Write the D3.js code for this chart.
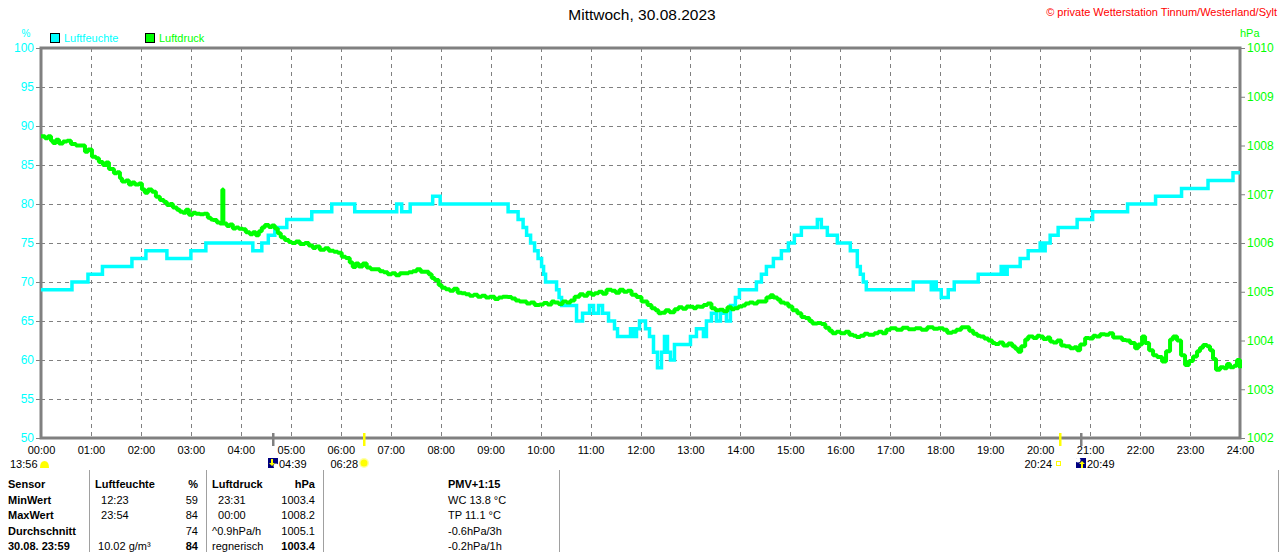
<!DOCTYPE html>
<html>
<head>
<meta charset="utf-8">
<script src="https://cdn.jsdelivr.net/npm/d3@7"></script>
<style>
  html, body { margin: 0; padding: 0; background: #fff; }
  svg { display: block; font-family: "Liberation Sans", Arial, sans-serif; }
</style>
</head>
<body>
<svg id="chart" width="1280" height="552"></svg>
<script>
// Luftfeuchte (%), Stufenwerte: Zeitpunkt (Stunden) und Wert
const humTimes = [0.00, 0.62, 0.94, 1.23, 1.82, 2.10, 2.52, 3.00, 3.30, 4.24, 4.42, 4.55, 4.68, 4.92, 5.42, 5.82,
  6.28, 7.12, 7.22, 7.39, 7.84, 7.99, 9.35, 9.55, 9.65, 9.72, 9.80, 9.88, 9.95, 10.02, 10.06, 10.10, 10.32,
  10.37, 10.42, 10.72, 10.84, 10.98, 11.06, 11.16, 11.24, 11.36, 11.48, 11.54, 11.80, 11.86, 11.92, 11.98,
  12.10, 12.18, 12.26, 12.34, 12.42, 12.48, 12.54, 12.60, 12.68, 13.00, 13.12, 13.26, 13.32, 13.42, 13.52,
  13.60, 13.72, 13.80, 13.90, 13.98, 14.32, 14.42, 14.52, 14.66, 14.82, 14.96, 15.08, 15.22, 15.54, 15.62,
  15.74, 15.94, 16.20, 16.34, 16.40, 16.46, 16.52, 17.46, 17.82, 17.86, 17.92, 18.02, 18.16, 18.28, 18.76,
  19.22, 19.28, 19.34, 19.60, 19.76, 20.00, 20.06, 20.10, 20.20, 20.36, 20.74, 21.05, 21.75, 22.31, 22.83,
  23.36, 23.86, 24.00];
const humValues = [69, 70, 71, 72, 73, 74, 73, 74, 75, 74, 75, 76, 77, 78, 79, 80,
  79, 80, 79, 80, 81, 80, 79, 78, 77, 76, 75, 74, 73, 72, 71, 70, 69,
  68, 67, 65, 66, 67, 66, 67, 66, 65, 64, 63, 64, 63, 64, 65,
  64, 63, 61, 59, 61, 63, 61, 60, 62, 63, 64, 63, 65, 66, 65,
  66, 65, 67, 68, 69, 70, 71, 72, 73, 74, 75, 76, 77, 78, 77,
  76, 75, 74, 72, 71, 70, 69, 70, 69, 70, 69, 68, 69, 70, 71,
  72, 71, 72, 73, 74, 75, 74, 75, 76, 77, 78, 79, 80, 81, 82,
  83, 84, 84];

// Luftdruck (hPa)
const presTimes = [0.00, 0.08, 0.14, 0.20, 0.24, 0.30, 0.36, 0.44, 0.52, 0.60, 0.70, 0.78, 0.88, 0.94, 1.02,
  1.10, 1.16, 1.24, 1.30, 1.36, 1.46, 1.52, 1.58, 1.62, 1.70, 1.76, 1.82, 1.88, 1.96, 2.02, 2.08, 2.14, 2.22,
  2.30, 2.38, 2.46, 2.52, 2.58, 2.64, 2.72, 2.78, 2.84, 2.90, 2.96, 3.04, 3.10, 3.18, 3.26, 3.34, 3.40, 3.44,
  3.52, 3.58, 3.62, 3.63, 3.65, 3.72, 3.78, 3.84, 3.90, 3.96, 4.04, 4.10, 4.18, 4.24, 4.30, 4.36, 4.42, 4.48,
  4.56, 4.62, 4.68, 4.74, 4.80, 4.88, 4.96, 5.02, 5.10, 5.18, 5.28, 5.36, 5.44, 5.50, 5.58, 5.68, 5.76, 5.86,
  5.94, 6.02, 6.10, 6.18, 6.24, 6.30, 6.36, 6.44, 6.52, 6.60, 6.70, 6.78, 6.86, 6.94, 7.02, 7.10, 7.18, 7.28,
  7.36, 7.44, 7.52, 7.60, 7.68, 7.76, 7.82, 7.88, 7.96, 8.02, 8.10, 8.18, 8.26, 8.34, 8.42, 8.50, 8.58, 8.66,
  8.74, 8.82, 8.90, 8.98, 9.08, 9.16, 9.24, 9.34, 9.42, 9.50, 9.58, 9.64, 9.72, 9.80, 9.88, 9.98, 10.06,
  10.14, 10.22, 10.28, 10.36, 10.44, 10.52, 10.60, 10.68, 10.78, 10.86, 10.94, 11.02, 11.08, 11.16, 11.24,
  11.32, 11.42, 11.50, 11.58, 11.66, 11.74, 11.82, 11.92, 12.02, 12.14, 12.22, 12.30, 12.36, 12.42, 12.50,
  12.58, 12.68, 12.76, 12.84, 12.92, 12.98, 13.06, 13.12, 13.18, 13.26, 13.34, 13.42, 13.50, 13.58, 13.66,
  13.74, 13.82, 13.88, 13.96, 14.04, 14.10, 14.18, 14.26, 14.34, 14.44, 14.52, 14.60, 14.66, 14.74, 14.80,
  14.88, 14.96, 15.04, 15.14, 15.22, 15.30, 15.38, 15.44, 15.54, 15.62, 15.70, 15.78, 15.84, 15.92, 16.00,
  16.10, 16.18, 16.26, 16.32, 16.40, 16.48, 16.56, 16.68, 16.76, 16.84, 16.92, 17.00, 17.12, 17.24, 17.36,
  17.50, 17.62, 17.74, 17.86, 17.96, 18.06, 18.14, 18.24, 18.32, 18.42, 18.50, 18.58, 18.66, 18.74, 18.80,
  18.88, 18.96, 19.04, 19.10, 19.18, 19.26, 19.36, 19.44, 19.50, 19.56, 19.62, 19.70, 19.76, 19.86, 19.94,
  20.00, 20.06, 20.14, 20.20, 20.26, 20.34, 20.42, 20.50, 20.60, 20.68, 20.74, 20.80, 20.90, 20.98, 21.06,
  21.12, 21.20, 21.30, 21.38, 21.46, 21.54, 21.64, 21.72, 21.80, 21.90, 21.96, 22.04, 22.10, 22.18, 22.26,
  22.34, 22.44, 22.52, 22.60, 22.66, 22.74, 22.82, 22.90, 22.98, 23.06, 23.14, 23.20, 23.26, 23.34, 23.40,
  23.46, 23.52, 23.60, 23.68, 23.74, 23.80, 23.88, 23.94, 24.00];
const presValues = [1008.19, 1008.15, 1008.19, 1008.10, 1008.05, 1008.12, 1008.04, 1008.08, 1008.10, 1008.03,
  1008.00, 1008.00, 1007.87, 1007.92, 1007.77, 1007.74, 1007.66, 1007.60, 1007.65, 1007.52, 1007.43, 1007.45,
  1007.33, 1007.26, 1007.28, 1007.20, 1007.24, 1007.20, 1007.22, 1007.10, 1007.03, 1007.10, 1007.05, 1006.95,
  1006.88, 1006.84, 1006.78, 1006.80, 1006.73, 1006.68, 1006.64, 1006.62, 1006.68, 1006.58, 1006.62, 1006.60,
  1006.59, 1006.60, 1006.52, 1006.48, 1006.47, 1006.42, 1006.40, 1006.40, 1007.10, 1006.40, 1006.35, 1006.38,
  1006.30, 1006.32, 1006.29, 1006.28, 1006.22, 1006.18, 1006.22, 1006.16, 1006.24, 1006.32, 1006.37, 1006.33,
  1006.36, 1006.30, 1006.20, 1006.12, 1006.06, 1006.02, 1006.00, 1006.03, 1005.98, 1006.00, 1005.95, 1005.90,
  1005.93, 1005.86, 1005.89, 1005.84, 1005.82, 1005.80, 1005.72, 1005.69, 1005.60, 1005.51, 1005.58, 1005.52,
  1005.58, 1005.50, 1005.46, 1005.46, 1005.42, 1005.40, 1005.36, 1005.38, 1005.34, 1005.38, 1005.38, 1005.40,
  1005.42, 1005.46, 1005.41, 1005.41, 1005.36, 1005.28, 1005.24, 1005.14, 1005.08, 1005.05, 1005.02, 1005.06,
  1004.98, 1004.97, 1004.95, 1004.92, 1004.94, 1004.90, 1004.92, 1004.88, 1004.90, 1004.85, 1004.88, 1004.90,
  1004.89, 1004.86, 1004.82, 1004.80, 1004.80, 1004.76, 1004.78, 1004.73, 1004.74, 1004.77, 1004.74, 1004.80,
  1004.78, 1004.75, 1004.80, 1004.78, 1004.82, 1004.90, 1004.95, 1004.92, 1004.98, 1004.94, 1004.97, 1005.00,
  1004.96, 1005.04, 1005.02, 1004.98, 1005.04, 1005.00, 1005.02, 1004.94, 1004.89, 1004.80, 1004.73, 1004.66,
  1004.62, 1004.56, 1004.57, 1004.62, 1004.58, 1004.64, 1004.68, 1004.65, 1004.70, 1004.69, 1004.66, 1004.70,
  1004.69, 1004.73, 1004.76, 1004.66, 1004.62, 1004.63, 1004.60, 1004.68, 1004.64, 1004.66, 1004.70, 1004.72,
  1004.76, 1004.78, 1004.76, 1004.80, 1004.80, 1004.88, 1004.93, 1004.88, 1004.84, 1004.78, 1004.76, 1004.70,
  1004.62, 1004.56, 1004.48, 1004.46, 1004.40, 1004.35, 1004.36, 1004.34, 1004.26, 1004.20, 1004.15, 1004.18,
  1004.15, 1004.18, 1004.12, 1004.10, 1004.07, 1004.10, 1004.14, 1004.12, 1004.15, 1004.18, 1004.15, 1004.22,
  1004.25, 1004.22, 1004.26, 1004.23, 1004.25, 1004.22, 1004.27, 1004.24, 1004.25, 1004.22, 1004.16, 1004.18,
  1004.22, 1004.27, 1004.27, 1004.20, 1004.14, 1004.10, 1004.08, 1004.04, 1004.00, 1003.95, 1003.93, 1003.96,
  1003.90, 1003.94, 1003.88, 1003.83, 1003.77, 1003.88, 1004.02, 1004.08, 1004.05, 1004.10, 1004.08, 1004.03,
  1004.06, 1003.98, 1003.96, 1004.00, 1003.90, 1003.88, 1003.84, 1003.86, 1003.80, 1003.92, 1004.05, 1004.04,
  1004.10, 1004.08, 1004.13, 1004.12, 1004.15, 1004.06, 1004.06, 1004.01, 1004.00, 1003.95, 1003.84, 1003.92,
  1004.08, 1003.95, 1003.80, 1003.70, 1003.66, 1003.57, 1003.78, 1004.02, 1004.08, 1004.00, 1003.70, 1003.50,
  1003.58, 1003.67, 1003.78, 1003.85, 1003.91, 1003.88, 1003.80, 1003.62, 1003.40, 1003.45, 1003.43, 1003.52,
  1003.45, 1003.48, 1003.60, 1003.43];

const humTicks = [50, 55, 60, 65, 70, 75, 80, 85, 90, 95, 100];
const presTicks = [1002, 1003, 1004, 1005, 1006, 1007, 1008, 1009, 1010];
const hourTicks = d3.range(0, 25);

// Sonne / Mond: Zeit, Symbol, Farbe der Markierung
const events = [
  { time: "13:56", kind: "moonset", mark: false },
  { time: "04:39", kind: "moonrise", mark: "#808080" },
  { time: "06:28", kind: "sunrise", mark: "#ffff00" },
  { time: "20:24", kind: "sunset", mark: "#ffff00" },
  { time: "20:49", kind: "moonup", mark: "#808080" }
];

const tableRows = [
  ["Sensor", "Luftfeuchte", "%", "Luftdruck", "hPa", "PMV+1:15"],
  ["MinWert", "  12:23", "59", "  23:31", "1003.4", "WC 13.8 °C"],
  ["MaxWert", "  23:54", "84", "  00:00", "1008.2", "TP 11.1 °C"],
  ["Durchschnitt", "", "74", "^0.9hPa/h", "1005.1", "-0.6hPa/3h"],
  ["30.08. 23:59", " 10.02 g/m³", "84", "regnerisch", "1003.4", "-0.2hPa/1h"]
];

const CYAN = '#00ffff', GREEN = '#00ff00', GREY = '#808080';

const svg = d3.select('#chart');
const plotL = 41, plotR = 1240, plotT = 48, plotB = 438;

const x = d3.scaleLinear().domain([0, 24]).range([plotL, plotR]);
const yH = d3.scaleLinear().domain([50, 100]).range([plotB, plotT]);
const yP = d3.scaleLinear().domain([1002, 1010]).range([plotB, plotT]);

// Titel
svg.append('text').attr('x', 642).attr('y', 20).attr('text-anchor', 'middle')
  .style('font-size', '15.5px').attr('fill', '#000').text('Mittwoch, 30.08.2023');
svg.append('text').attr('x', 1277).attr('y', 16).attr('text-anchor', 'end')
  .style('font-size', '11px').attr('fill', '#ff0000')
  .text('© private Wetterstation Tinnum/Westerland/Sylt');

// Einheiten + Legende
svg.append('text').attr('x', 26).attr('y', 37).attr('text-anchor', 'middle')
  .style('font-size', '10px').attr('fill', CYAN).text('%');
svg.append('text').attr('x', 1240).attr('y', 37)
  .style('font-size', '11px').attr('fill', GREEN).text('hPa');

const legend = [
  { name: 'Luftfeuchte', color: CYAN, x: 50 },
  { name: 'Luftdruck', color: GREEN, x: 145 }
];
legend.forEach(l => {
  svg.append('rect').attr('x', l.x + 0.5).attr('y', 33.5).attr('width', 9).attr('height', 9)
    .attr('fill', l.color).attr('stroke', '#000').attr('stroke-width', 1);
  svg.append('text').attr('x', l.x + 14).attr('y', 42).style('font-size', '11px')
    .attr('fill', l.color).text(l.name);
});

// Gitter
const grid = svg.append('g').attr('stroke', GREY).attr('stroke-width', 1).attr('stroke-dasharray', '4,4');
grid.selectAll('line.v').data(hourTicks.slice(1, -1)).enter().append('line')
  .attr('x1', d => Math.round(x(d)) + 0.5).attr('x2', d => Math.round(x(d)) + 0.5)
  .attr('y1', plotT).attr('y2', plotB);
grid.selectAll('line.h').data(humTicks.slice(1, -1)).enter().append('line')
  .attr('y1', d => Math.round(yH(d)) + 0.5).attr('y2', d => Math.round(yH(d)) + 0.5)
  .attr('x1', plotL).attr('x2', plotR);

// Achsen
const axL = svg.append('g').attr('transform', `translate(${plotL},0)`)
  .call(d3.axisLeft(yH).tickValues(humTicks).tickSize(5).tickPadding(2));
axL.selectAll('text').attr('fill', CYAN).style('font-size', '12px');
const axR = svg.append('g').attr('transform', `translate(${plotR},0)`)
  .call(d3.axisRight(yP).tickValues(presTicks).tickSize(5).tickPadding(2).tickFormat(d3.format('d')));
axR.selectAll('text').attr('fill', GREEN).style('font-size', '12px');
const axB = svg.append('g').attr('transform', `translate(0,${plotB})`)
  .call(d3.axisBottom(x).tickValues(hourTicks).tickSize(0).tickPadding(8)
    .tickFormat(d => d3.format('02d')(d) + ':00'));
axB.selectAll('text').attr('fill', '#000').style('font-size', '11px');
[axL, axR, axB].forEach(a => {
  a.select('.domain').remove();
  a.selectAll('line').attr('stroke', GREY);
});

// Rahmen
svg.append('rect').attr('x', plotL).attr('y', plotT).attr('width', plotR - plotL).attr('height', plotB - plotT)
  .attr('fill', 'none').attr('stroke', GREY).attr('stroke-width', 3);

// Linien
const humData = humTimes.map((t, i) => [t, humValues[i]]);
const presData = presTimes.map((t, i) => [t, presValues[i]]);

svg.append('path').datum(humData)
  .attr('d', d3.line().x(d => x(d[0])).y(d => yH(d[1])).curve(d3.curveStepAfter))
  .attr('fill', 'none').attr('stroke', CYAN).attr('stroke-width', 3.5);
svg.append('path').datum(presData)
  .attr('d', d3.line().x(d => x(d[0])).y(d => yP(d[1])).curve(d3.curveStepAfter))
  .attr('fill', 'none').attr('stroke', GREEN).attr('stroke-width', 4).attr('stroke-linejoin', 'bevel');

// Sonne / Mond
const parseT = s => { const [h, m] = s.split(':').map(Number); return h + m / 60; };
events.forEach(e => {
  const ex = Math.round(x(parseT(e.time)));
  if (e.mark) {
    svg.append('rect').attr('x', ex - 1).attr('y', 433).attr('width', 2.5).attr('height', 13).attr('fill', e.mark);
  }
  const g = svg.append('g').style('font-size', '11px');
  if (e.kind === 'moonset') {
    g.append('text').attr('x', 10).attr('y', 468).text(e.time);
    g.append('path').attr('d', 'M40,468 Q40,461 44.5,461 Q49,461 49,468 Z').attr('fill', '#ffff00');
  } else if (e.kind === 'moonrise') {
    g.append('rect').attr('x', ex - 5).attr('y', 458).attr('width', 10).attr('height', 10).attr('fill', '#000080');
    g.append('circle').attr('cx', ex + 3).attr('cy', 466).attr('r', 2.5).attr('fill', '#fff');
    g.append('path').attr('d', `M${ex - 2},459 v4 h-2 l3,3 l3,-3 h-2 v-4 z`).attr('fill', '#ffff00');
    g.append('text').attr('x', ex + 6).attr('y', 468).text(e.time);
  } else if (e.kind === 'sunrise') {
    g.append('text').attr('x', ex - 6).attr('y', 468).attr('text-anchor', 'end').text(e.time);
    g.append('circle').attr('cx', ex).attr('cy', 463).attr('r', 5).attr('fill', '#ffffa0');
    g.append('circle').attr('cx', ex).attr('cy', 463).attr('r', 3.5).attr('fill', '#ffff00');
  } else if (e.kind === 'sunset') {
    g.append('text').attr('x', ex - 8).attr('y', 468).attr('text-anchor', 'end').text(e.time);
    g.append('rect').attr('x', ex - 3.5).attr('y', 461.5).attr('width', 4).attr('height', 4)
      .attr('fill', 'none').attr('stroke', '#ffff00');
  } else {
    g.append('rect').attr('x', ex - 5).attr('y', 458).attr('width', 10).attr('height', 10).attr('fill', '#000080');
    g.append('circle').attr('cx', ex - 3).attr('cy', 460).attr('r', 2.5).attr('fill', '#fff');
    g.append('path').attr('d', `M${ex},468 v-4 h-2 l3,-3 l3,3 h-2 v4 z`).attr('fill', '#ffff00');
    g.append('text').attr('x', ex + 6).attr('y', 468).text(e.time);
  }
});

// Tabelle
const sepX = [89, 206, 323, 559, 1278];
svg.selectAll('line.sep').data(sepX).enter().append('line')
  .attr('x1', d => d + 0.5).attr('x2', d => d + 0.5).attr('y1', 470).attr('y2', 552)
  .attr('stroke', '#a0a0a0').attr('stroke-width', 1);

const colX = [8, 95, 198, 212, 315, 448];
const colAnchor = ['start', 'start', 'end', 'start', 'end', 'start'];
const rowY = [488, 503.5, 519, 534.5, 550];
tableRows.forEach((row, r) => {
  row.forEach((cell, c) => {
    const bold = r === 0 || c === 0 || (r === 4 && (c === 2 || c === 4));
    svg.append('text')
      .attr('x', colX[c]).attr('y', rowY[r])
      .attr('text-anchor', colAnchor[c])
      .attr('xml:space', 'preserve')
      .style('white-space', 'pre')
      .style('font-size', '11px')
      .style('font-weight', bold ? 'bold' : 'normal')
      .attr('fill', '#000')
      .text(cell);
  });
});
</script>
</body>
</html>
